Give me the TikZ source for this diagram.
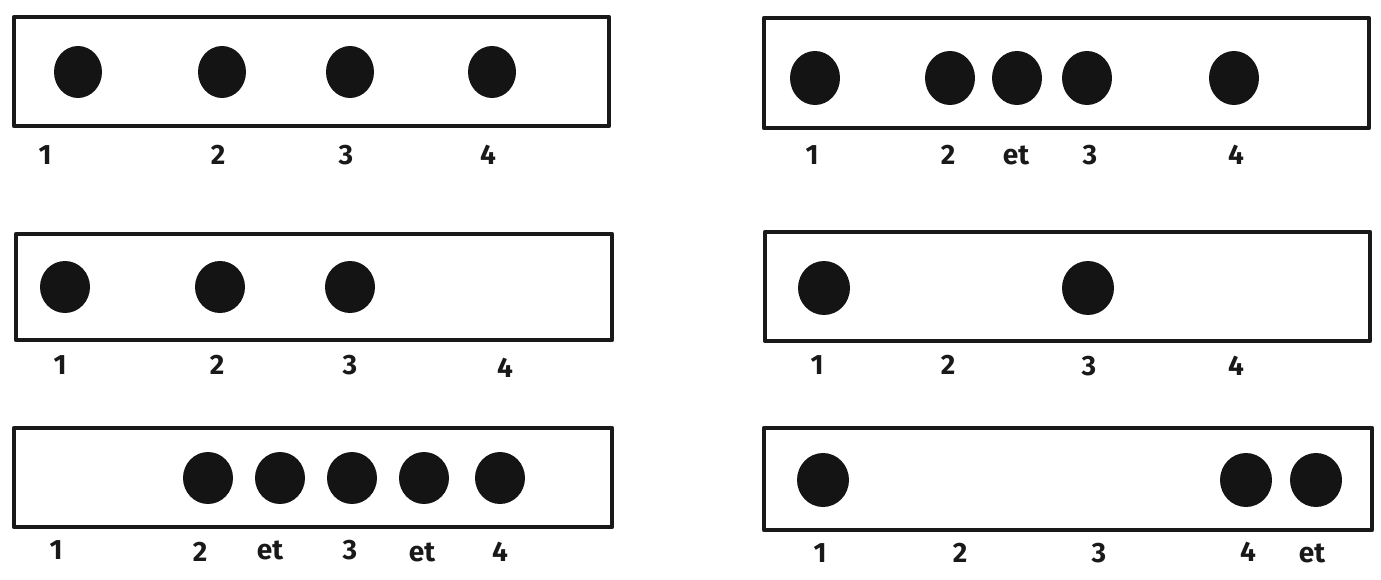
\documentclass[tikz,border=0pt]{standalone}
\usepackage{fontspec}
\setmainfont{Fira Sans}
\begin{document}
\begin{tikzpicture}[x=1pt,y=-1pt,
  box/.style={draw=black!90,line width=4.5pt,line join=round},
  dot/.style={fill=black!92,draw=none},
  lbl/.style={font=\fontsize{28}{30}\selectfont\bfseries,inner sep=0pt,text=black!90}]
\useasboundingbox (0,0) rectangle (1381,580);
% left top
\draw[box] (14,17) rectangle (609,126);
\foreach \x [count=\i] in {78,222,350,492}
  \fill[dot] (\x,72) ellipse [x radius=24,y radius=26];
\node[lbl] (a1) at (45,155) {1};
\node[lbl] (a2) at (218,155) {2};
\node[lbl] (a3) at (346,155) {3};
\node[lbl] (a4) at (488,155) {4};
% left middle
\draw[box] (16,234) rectangle (612,340);
\foreach \x in {65,220,350}
  \fill[dot] (\x,287) ellipse [x radius=25,y radius=26];
\node[lbl] (b1) at (60,365) {1};
\node[lbl] (b2) at (217,365) {2};
\node[lbl] (b3) at (350,365) {3};
\node[lbl] (b4) at (505,368) {4};
% left bottom
\draw[box] (14,428) rectangle (612,527);
\foreach \x in {208,280,352,424,500}
  \fill[dot] (\x,478) ellipse [x radius=25,y radius=26];
\node[lbl] (c1) at (56,550) {1};
\node[lbl] (c2) at (200,552) {2};
\node[lbl] (c3) at (270,550) {et};
\node[lbl] (c4) at (350,550) {3};
\node[lbl] (c5) at (422,552) {et};
\node[lbl] (c6) at (500,552) {4};
% right top
\draw[box] (764,18) rectangle (1369,128);
\foreach \x in {815,950,1017,1087,1234}
  \fill[dot] (\x,78) ellipse [x radius=25,y radius=27];
\node[lbl] (d1) at (812,155) {1};
\node[lbl] (d2) at (948,155) {2};
\node[lbl] (d3) at (1016,155) {et};
\node[lbl] (d4) at (1090,155) {3};
\node[lbl] (d5) at (1236,155) {4};
% right middle
\draw[box] (765,232) rectangle (1370,341);
\foreach \x in {824,1088}
  \fill[dot] (\x,288) ellipse [x radius=26,y radius=27];
\node[lbl] (e1) at (817,365) {1};
\node[lbl] (e2) at (948,365) {2};
\node[lbl] (e3) at (1089,366) {3};
\node[lbl] (e4) at (1236,366) {4};
% right bottom
\draw[box] (764,428) rectangle (1372,530);
\foreach \x in {823,1246,1316}
  \fill[dot] (\x,480) ellipse [x radius=26,y radius=27];
\node[lbl] (f1) at (820,553) {1};
\node[lbl] (f2) at (960,553) {2};
\node[lbl] (f3) at (1099,553) {3};
\node[lbl] (f4) at (1248,552) {4};
\node[lbl] (f5) at (1312,553) {et};
\end{tikzpicture}
\end{document}
